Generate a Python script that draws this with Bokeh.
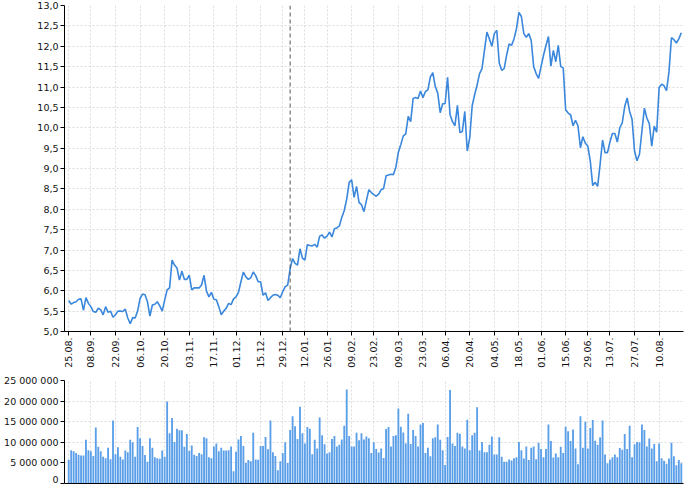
import math
import pandas as pd
from bokeh.plotting import figure
from bokeh.layouts import column
from bokeh.models import (Range1d, FixedTicker, Span, CustomJSTickFormatter,
                          ColumnDataSource, SingleIntervalTicker)
from bokeh.embed import file_html
from bokeh.resources import INLINE

# ---------------- data ----------------
start_date = "2025-08-25"
end_date = "2026-08-21"
holidays = ["2025-09-01", "2025-11-27", "2025-12-25", "2026-01-01", "2026-01-19",
            "2026-02-16", "2026-04-03", "2026-05-25", "2026-06-19", "2026-07-03"]

tick_labels = ["25.08.", "08.09.", "22.09.", "06.10.", "20.10.", "03.11.", "17.11.",
               "01.12.", "15.12.", "29.12.", "12.01.", "26.01.", "09.02.", "23.02.",
               "09.03.", "23.03.", "06.04.", "20.04.", "04.05.", "18.05.", "01.06.",
               "15.06.", "29.06.", "13.07.", "27.07.", "10.08."]

close = [
    5.76, 5.67, 5.71, 5.73, 5.79, 5.80, 5.52, 5.83, 5.69, 5.61,
    5.49, 5.47, 5.57, 5.53, 5.41, 5.61, 5.47, 5.50, 5.35, 5.41,
    5.50, 5.50, 5.49, 5.55, 5.33, 5.19, 5.34, 5.33, 5.50, 5.81,
    5.92, 5.90, 5.73, 5.38, 5.65, 5.67, 5.73, 5.63, 5.50, 5.77,
    6.02, 6.07, 6.75, 6.63, 6.56, 6.26, 6.48, 6.28, 6.28, 6.38,
    6.02, 6.07, 6.07, 6.07, 6.14, 6.38, 5.99, 5.85, 5.96, 5.79,
    5.78, 5.61, 5.41, 5.50, 5.57, 5.69, 5.66, 5.80, 5.85, 5.96,
    6.22, 6.46, 6.34, 6.28, 6.32, 6.46, 6.37, 6.22, 6.22, 5.89,
    5.95, 5.76, 5.83, 5.89, 5.91, 5.89, 5.83, 5.98, 6.10, 6.14,
    6.54, 6.79, 6.67, 6.63, 7.03, 6.80, 6.75, 7.13, 7.11, 7.10,
    7.14, 7.07, 7.34, 7.37, 7.29, 7.34, 7.44, 7.32, 7.52, 7.54,
    7.59, 7.80, 7.97, 8.25, 8.66, 8.72, 8.29, 8.56, 8.17, 8.11,
    7.94, 8.21, 8.48, 8.41, 8.36, 8.32, 8.37, 8.48, 8.51, 8.82,
    8.84, 8.86, 8.85, 9.04, 9.40, 9.59, 9.80, 9.85, 10.28, 10.15,
    10.72, 10.74, 10.72, 10.90, 10.74, 10.89, 10.93, 11.25, 11.35, 11.01,
    10.85, 10.37, 10.59, 10.59, 11.24, 10.32, 10.15, 10.05, 10.55, 9.88,
    9.91, 10.40, 9.43, 9.75, 10.54, 10.81, 11.05, 11.33, 11.45, 11.90,
    12.35, 12.18, 12.00, 12.31, 12.39, 11.59, 11.41, 11.45, 11.78, 12.06,
    12.02, 12.18, 12.43, 12.83, 12.73, 12.31, 12.22, 12.31, 12.14, 11.50,
    11.33, 11.21, 11.50, 11.78, 12.02, 12.24, 11.51, 11.90, 11.62, 12.02,
    11.50, 11.47, 10.44, 10.36, 10.32, 10.05, 10.18, 10.05, 9.51, 9.78,
    9.62, 9.55, 9.19, 8.58, 8.66, 8.56, 9.10, 9.70, 9.39, 9.39,
    9.65, 9.86, 9.86, 9.65, 10.00, 10.12, 10.52, 10.73, 10.40, 10.20,
    9.43, 9.19, 9.35, 9.92, 10.48, 10.24, 10.10, 9.55, 10.04, 9.89,
    10.99, 11.07, 11.03, 10.91, 11.37, 12.21, 12.16, 12.08, 12.18, 12.33,
]

volume_mln = [
    5.75, 8.05, 7.8, 7.4, 7.0, 6.8, 6.8, 10.6, 8.05, 7.8,
    6.7, 13.6, 8.9, 7.8, 6.5, 6.1, 8.7, 5.9, 15.3, 7.1,
    8.8, 6.5, 5.8, 8.0, 7.6, 10.6, 10.0, 6.5, 13.7, 11.0,
    9.1, 6.9, 5.3, 11.0, 8.7, 6.4, 6.1, 6.0, 8.0, 6.5,
    19.9, 12.2, 15.9, 10.1, 13.3, 12.9, 12.9, 8.9, 12.0, 7.9,
    9.2, 7.0, 6.7, 7.4, 7.1, 11.2, 11.0, 6.4, 6.1, 9.0,
    9.7, 7.8, 8.7, 8.0, 8.0, 8.1, 9.0, 3.0, 7.7, 10.7,
    11.5, 9.1, 5.0, 5.7, 5.4, 12.3, 5.8, 5.75, 9.1, 9.1,
    11.3, 8.3, 15.3, 7.6, 6.7, 3.2, 5.4, 7.4, 10.0, 5.0,
    13.0, 16.3, 13.9, 10.8, 18.6, 12.2, 9.7, 13.7, 13.3, 7.1,
    10.6, 8.5, 16.0, 11.7, 9.5, 7.3, 7.6, 10.8, 11.5, 9.0,
    9.4, 10.7, 14.0, 22.8, 11.5, 9.0, 9.0, 12.3, 10.5, 12.2,
    10.7, 11.4, 11.0, 7.4, 10.0, 8.4, 7.5, 8.5, 6.2, 13.2,
    13.7, 9.0, 11.5, 11.7, 18.2, 13.8, 12.4, 9.7, 16.9, 9.6,
    13.0, 11.5, 9.0, 14.3, 14.7, 7.4, 8.7, 6.6, 11.0, 11.2,
    14.3, 10.6, 8.05, 4.5, 11.3, 22.7, 9.7, 9.1, 12.3, 12.1,
    9.0, 8.5, 15.5, 8.05, 11.7, 12.3, 18.5, 8.0, 10.1, 7.6,
    7.6, 9.4, 11.4, 7.05, 7.05, 11.2, 6.5, 5.3, 5.3, 5.8,
    5.6, 6.1, 6.4, 10.1, 8.05, 6.05, 9.0, 5.7, 8.7, 9.0,
    5.9, 9.9, 8.4, 6.4, 8.4, 14.3, 10.3, 6.3, 7.3, 6.4,
    8.9, 7.4, 13.8, 12.7, 10.3, 13.1, 8.5, 4.7, 16.3, 8.7,
    15.0, 8.5, 13.5, 15.4, 10.4, 9.4, 11.2, 15.3, 7.05, 4.9,
    5.75, 6.4, 7.05, 6.4, 8.6, 8.2, 12.0, 8.4, 14.0, 6.4,
    9.5, 10.1, 10.0, 14.3, 13.0, 9.0, 10.9, 8.5, 9.6, 5.4,
    9.7, 6.1, 5.5, 4.8, 6.05, 9.9, 6.6, 4.4, 5.7, 4.9,
]

# ---------------- derived ----------------
dates = pd.bdate_range(start_date, end_date, freq="C", holidays=holidays)
n = min(len(dates), len(close), len(volume_mln))
dates = dates[:n]
date_labels = [d.strftime("%d.%m.") for d in dates]
idx = list(range(n))
src = ColumnDataSource(dict(x=idx, close=close[:n],
                            vol=[v * 1e6 for v in volume_mln[:n]]))

tick_pos = [date_labels.index(t) for t in tick_labels if t in date_labels]
overrides = {p: date_labels[p] for p in tick_pos}
year_start = next(i for i, d in enumerate(dates) if d.year == 2026)

FONT = "DejaVu Sans"
FS = "9.5px"
TXT = "#111111"
GRID = "#dcdcdc"
LEFT = 64

x_range = Range1d(-1.72, n - 0.1)


def style(p):
    p.outline_line_color = None
    p.background_fill_color = "white"
    p.border_fill_color = "white"
    for ax in (p.xaxis[0], p.yaxis[0]):
        ax.axis_line_color = "black"
        ax.axis_line_width = 1
        ax.major_tick_line_color = "black"
        ax.major_tick_in = 0
        ax.major_tick_out = 4
        ax.minor_tick_line_color = None
        ax.major_label_text_font = FONT
        ax.major_label_text_font_size = FS
        ax.major_label_text_color = TXT
    p.yaxis[0].major_label_standoff = 2
    p.xgrid.grid_line_color = GRID
    p.ygrid.grid_line_color = GRID
    p.xgrid.grid_line_dash = "2 2"
    p.ygrid.grid_line_dash = "2 2"


# ---------------- price chart ----------------
p1 = figure(width=684, height=370, output_backend="svg", toolbar_location=None,
            x_range=x_range, y_range=Range1d(5.0, 13.0),
            min_border_left=LEFT, min_border_right=1, min_border_top=5,
            min_border_bottom=0)
style(p1)
p1.line("x", "close", source=src, line_color="#3a87dc", line_width=1.6)
p1.add_layout(Span(location=year_start, dimension="height", line_color="#555555",
                   line_dash="4 3", line_width=1))
p1.yaxis[0].ticker = SingleIntervalTicker(interval=0.5, num_minor_ticks=0)
p1.yaxis[0].formatter = CustomJSTickFormatter(
    code="return tick.toFixed(1).replace('.', ',');")
p1.xaxis[0].ticker = FixedTicker(ticks=tick_pos)
p1.xaxis[0].major_label_overrides = overrides
p1.xaxis[0].major_label_orientation = math.pi / 2
p1.xaxis[0].major_label_standoff = 2

# ---------------- volume chart ----------------
p2 = figure(width=684, height=114, output_backend="svg", toolbar_location=None,
            x_range=x_range, y_range=Range1d(0, 25e6),
            min_border_left=LEFT, min_border_right=1, min_border_top=10,
            min_border_bottom=1)
style(p2)
p2.vbar(x="x", top="vol", width=0.75, source=src, fill_color="#5a9fe8",
        line_color=None)
p2.yaxis[0].ticker = SingleIntervalTicker(interval=5e6, num_minor_ticks=0)
p2.yaxis[0].formatter = CustomJSTickFormatter(
    code=r"return Math.round(tick).toString().replace(/\B(?=(\d{3})+(?!\d))/g, ' ');")
# baseline axis without labels; vertical grid follows the date ticks
p2.xaxis[0].ticker = FixedTicker(ticks=[])
p2.xaxis[0].major_label_standoff = 0
p2.xaxis[0].major_tick_out = 0
p2.xgrid.ticker = FixedTicker(ticks=tick_pos)

layout = column(p1, p2, spacing=0)
open("out.html", "w").write(file_html(layout, INLINE))
